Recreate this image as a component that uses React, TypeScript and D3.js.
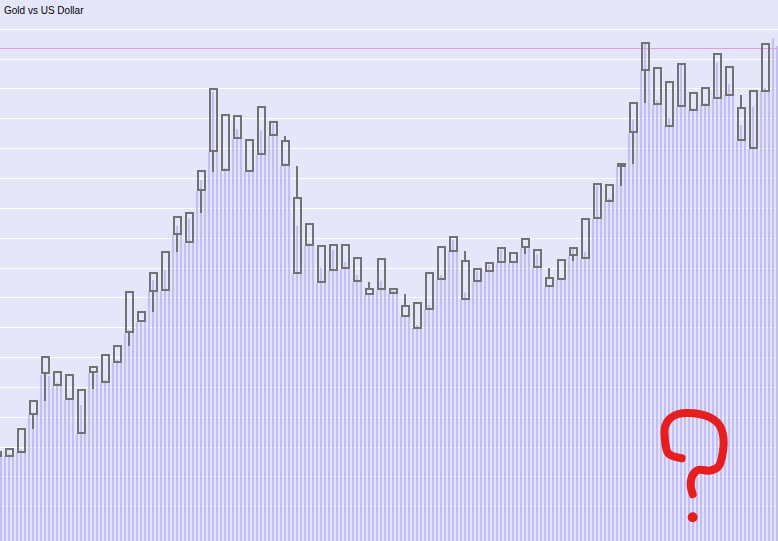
import React from "react";
import * as d3 from "d3";

const TITLE = "Gold vs US Dollar";

// Candles (index 0 is the partially visible candle at the left edge)
const openP = [
  1574.2, 1574.0, 1576.7, 1602.0, 1629.4, 1630.5, 1628.5, 1618.5, 1630.1, 1623.4,
  1636.8, 1657.1, 1670.7, 1684.8, 1685.3, 1722.8, 1737.1, 1752.3, 1778.4, 1802.8,
  1786.9, 1786.0, 1776.2, 1789.0, 1785.3, 1746.7, 1715.4, 1714.8, 1698.5, 1699.8,
  1706.5, 1686.1, 1685.7, 1686.1, 1674.8, 1676.6, 1672.3, 1692.4, 1711.6, 1704.5,
  1691.1, 1697.8, 1703.8, 1709.9, 1713.9, 1712.3, 1693.5, 1692.4, 1708.5, 1706.5,
  1733.3, 1744.7, 1768.2, 1791.0, 1832.9, 1833.9, 1824.5, 1808.4, 1817.1, 1809.5,
  1814.2, 1834.5, 1807.1, 1780.2, 1818.9,
];
const closeP = [
  1576.9, 1578.9, 1592.3, 1611.1, 1640.6, 1621.4, 1612.0, 1589.2, 1633.9, 1641.9,
  1647.9, 1684.1, 1664.3, 1696.9, 1710.9, 1734.4, 1717.2, 1764.8, 1819.8, 1765.7,
  1801.7, 1765.0, 1808.1, 1797.7, 1768.8, 1696.5, 1729.3, 1690.4, 1715.2, 1715.2,
  1691.1, 1682.4, 1705.9, 1683.3, 1667.6, 1660.0, 1696.5, 1714.1, 1720.6, 1679.0,
  1699.1, 1703.2, 1713.6, 1703.8, 1719.3, 1700.5, 1687.8, 1705.2, 1713.6, 1732.7,
  1756.1, 1755.6, 1769.9, 1810.6, 1851.0, 1810.1, 1795.4, 1836.5, 1806.1, 1820.5,
  1843.2, 1816.2, 1785.6, 1818.5, 1850.0,
];
const highP = [
  1576.9, 1578.9, 1592.3, 1611.1, 1640.6, 1630.5, 1628.5, 1618.5, 1633.9, 1641.9,
  1647.9, 1684.1, 1670.7, 1696.9, 1710.9, 1734.4, 1737.1, 1764.8, 1819.8, 1802.8,
  1801.7, 1786.0, 1808.1, 1797.7, 1788.5, 1768.4, 1729.3, 1714.8, 1715.2, 1715.2,
  1706.5, 1690.8, 1705.9, 1686.1, 1682.6, 1676.6, 1696.5, 1714.1, 1720.6, 1711.4,
  1699.1, 1703.2, 1713.6, 1709.9, 1719.3, 1712.3, 1700.2, 1705.2, 1713.6, 1732.7,
  1756.1, 1755.6, 1769.9, 1810.6, 1851.0, 1833.9, 1824.5, 1836.5, 1817.1, 1820.5,
  1843.2, 1834.5, 1816.0, 1818.5, 1850.0,
];
const lowP = [
  1574.2, 1574.0, 1576.7, 1592.3, 1611.1, 1621.4, 1612.0, 1589.2, 1618.7, 1623.4,
  1636.8, 1647.9, 1664.3, 1670.7, 1685.3, 1710.9, 1717.2, 1737.1, 1764.6, 1765.7,
  1786.9, 1765.0, 1776.2, 1789.0, 1768.8, 1696.5, 1715.4, 1690.4, 1698.5, 1699.8,
  1691.1, 1682.4, 1685.7, 1683.3, 1667.6, 1660.0, 1672.3, 1692.4, 1711.6, 1679.0,
  1691.1, 1697.8, 1703.8, 1703.8, 1709.4, 1700.5, 1687.8, 1692.4, 1704.7, 1706.5,
  1733.3, 1744.7, 1755.0, 1769.7, 1810.4, 1810.1, 1795.4, 1808.4, 1806.1, 1809.5,
  1814.2, 1816.2, 1785.6, 1780.2, 1818.0,
];

// Finer series: three sub-period values per candle
const subP = [
  1574.7,
  1574.0, 1575.6, 1574.0, 1576.7, 1578.4, 1576.7, 1601.5, 1602.8, 1601.5,
  1628.3, 1629.6, 1627.6, 1620.9, 1623.1, 1620.9, 1611.5, 1612.9, 1611.5,
  1588.8, 1608.2, 1588.8, 1629.6, 1630.3, 1629.0, 1622.9, 1625.0, 1622.9,
  1636.3, 1638.4, 1636.3, 1656.5, 1658.5, 1656.5, 1663.8, 1665.2, 1663.8,
  1684.6, 1692.0, 1684.6, 1684.6, 1698.7, 1684.6, 1722.1, 1728.4, 1722.1,
  1716.8, 1733.1, 1716.8, 1751.6, 1759.0, 1751.6, 1777.8, 1818.0, 1777.8,
  1765.0, 1767.0, 1765.0, 1786.5, 1793.2, 1786.5, 1764.4, 1765.7, 1764.4,
  1775.8, 1792.0, 1775.8, 1788.5, 1796.5, 1788.5, 1768.4, 1770.4, 1768.4,
  1696.0, 1728.4, 1696.0, 1714.8, 1716.8, 1714.8, 1690.0, 1700.2, 1690.0,
  1698.0, 1712.1, 1698.0, 1699.3, 1704.0, 1699.3, 1690.6, 1695.3, 1690.6,
  1681.9, 1683.3, 1681.9, 1685.3, 1691.5, 1685.3, 1682.6, 1684.6, 1682.6,
  1667.2, 1668.5, 1667.2, 1659.8, 1661.8, 1659.8, 1671.9, 1675.2, 1671.9,
  1692.0, 1695.3, 1692.0, 1711.4, 1718.8, 1711.4, 1678.6, 1683.5, 1678.6,
  1690.6, 1698.0, 1690.6, 1697.3, 1702.0, 1697.3, 1703.4, 1712.1, 1703.4,
  1703.4, 1704.9, 1703.4, 1713.4, 1714.8, 1713.4, 1700.0, 1709.4, 1700.0,
  1687.3, 1688.6, 1687.3, 1692.0, 1693.5, 1692.0, 1708.1, 1713.0, 1708.1,
  1706.1, 1710.7, 1706.1, 1732.9, 1755.0, 1732.9, 1744.3, 1746.9, 1744.3,
  1767.7, 1768.4, 1767.7, 1790.5, 1799.7, 1790.5, 1832.7, 1850.6, 1832.7,
  1809.5, 1812.6, 1809.5, 1795.2, 1800.6, 1795.2, 1807.9, 1836.1, 1807.9,
  1805.9, 1807.3, 1805.9, 1809.3, 1810.6, 1809.3, 1814.0, 1837.9, 1814.0,
  1816.0, 1823.1, 1816.0, 1785.1, 1795.9, 1785.1, 1779.8, 1808.1, 1779.8,
  1818.7, 1820.7, 1818.7,
  1854.0, 1848.8,
];

const gridPrices = [
  1540, 1560, 1580, 1600, 1620, 1640, 1660, 1680, 1700, 1720, 1740, 1760, 1780,
  1800, 1820, 1840, 1860,
];
const currentPrice = 1847.3;

// Hand-drawn annotation (pixel space)
const questionPath: [number, number][] = [
  [681.7, 458.3], [668.3, 453.3], [665, 440], [665, 426.7], [670, 418.3],
  [678.3, 414], [693.3, 413.3], [708.3, 416.7], [719.3, 425], [723.3, 436.7],
  [722.7, 453.3], [718.3, 466.7], [710, 470.7], [698.3, 470], [692.7, 475],
  [690.7, 485], [692.7, 494.3],
];
const questionDot: [number, number] = [692.7, 517.3];

const W = 778;
const H = 541;

export default function App() {
  const x = d3.scaleLinear().domain([0, 65]).range([-3, 777]);
  const y = d3.scaleLinear().domain([1517.04, 1879.64]).range([H, 0]);
  const yr = (v: number) => Math.round(y(v));

  const qLine = d3.line().curve(d3.curveCatmullRom.alpha(0.5))(questionPath) || "";

  return (
    <div style={{ position: "fixed", left: 0, top: 0 }}>
      <svg width={W} height={H} style={{ display: "block" }}>
        <rect x={0} y={0} width={W} height={H} fill="#E6E6FA" />
        <g shapeRendering="crispEdges">
          {gridPrices.map((p) => (
            <line key={p} x1={0} x2={W} y1={y(p)} y2={y(p)} stroke="#FFFFFF" strokeWidth={1} />
          ))}
        </g>
        <g fill="#C5BEF5">
          {subP.map((v, j) => {
            const cx = x((j + 1) / 3);
            const top = y(v);
            return <rect key={j} x={cx - 1.1} y={top} width={2.2} height={H - top} />;
          })}
        </g>
        <line
          x1={0}
          x2={W}
          y1={y(currentPrice)}
          y2={y(currentPrice)}
          stroke="#E59CE0"
          strokeWidth={1}
          shapeRendering="crispEdges"
        />
        <g stroke="#727272" strokeWidth={2} fill="none">
          {openP.map((o, i) => {
            const c = closeP[i];
            const cx = x(i);
            const bt = Math.max(o, c);
            const bb = Math.min(o, c);
            const t = yr(bt);
            const b = yr(bb);
            return (
              <g key={i}>
                {highP[i] > bt && <line x1={cx} x2={cx} y1={yr(highP[i])} y2={t} />}
                {lowP[i] < bb && <line x1={cx} x2={cx} y1={b} y2={yr(lowP[i])} />}
                <rect x={cx - 3} y={t} width={7} height={Math.max(b - t, 2)} />
              </g>
            );
          })}
        </g>
        <text
          x={4}
          y={14}
          fontFamily="'Liberation Sans', Arial, sans-serif"
          fontSize={10}
          fill="#000000"
        >
          {TITLE}
        </text>
        <path
          d={qLine}
          fill="none"
          stroke="#E61E1E"
          strokeWidth={8}
          strokeLinecap="round"
          strokeLinejoin="round"
        />
        <circle cx={questionDot[0]} cy={questionDot[1]} r={5} fill="#E61E1E" />
      </svg>
    </div>
  );
}
